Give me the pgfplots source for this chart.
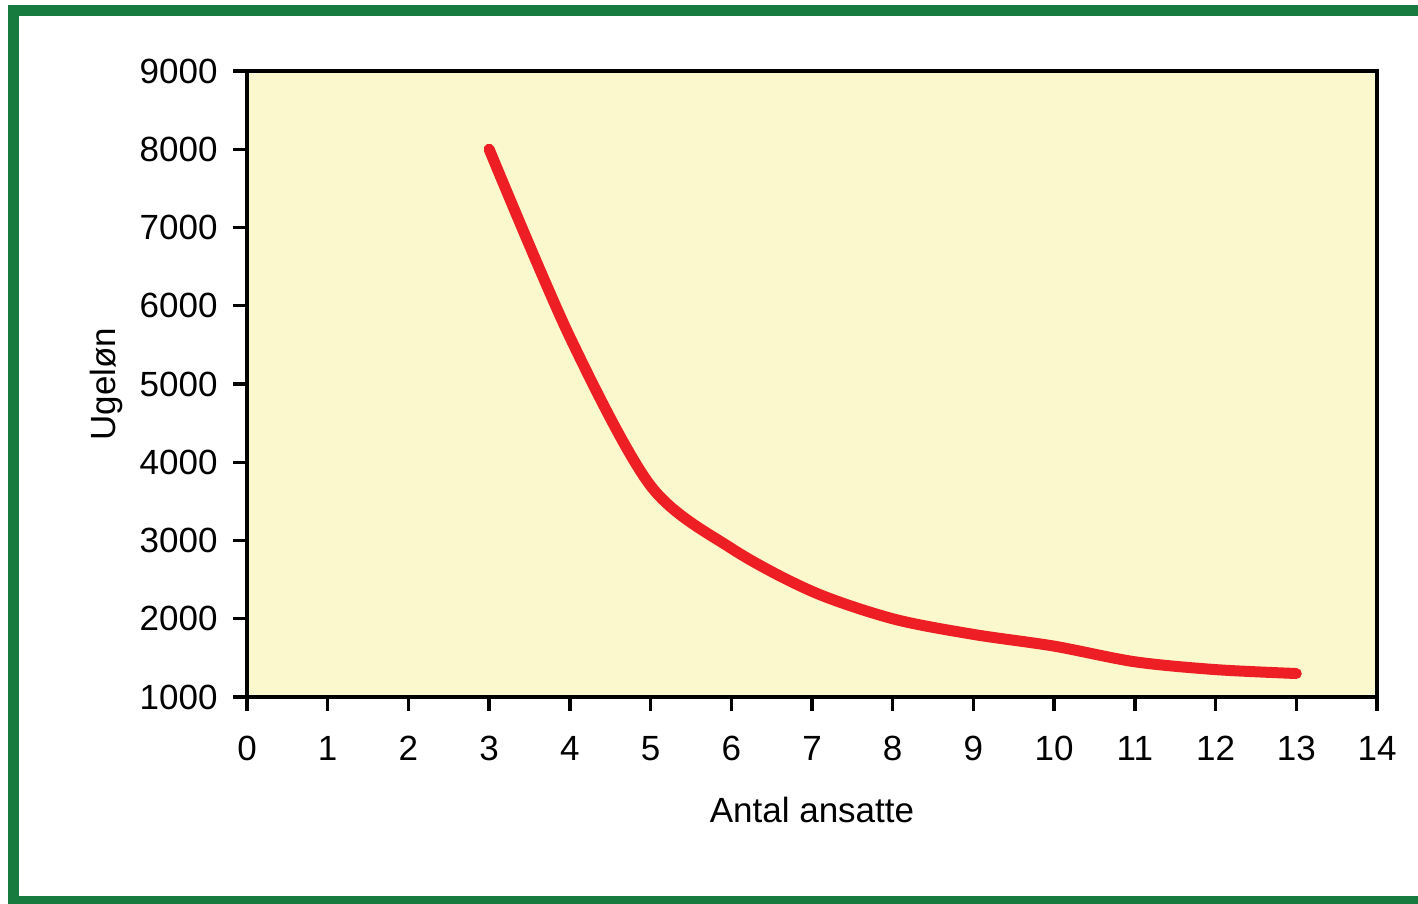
\documentclass[border=0pt]{standalone}
\usepackage{fontspec}
\setmainfont{Liberation Sans}
\usepackage{pgfplots}
\pgfplotsset{compat=1.18}
\definecolor{bgyellow}{RGB}{250,248,204}
\definecolor{linered}{RGB}{237,30,36}
\definecolor{framegreen}{RGB}{23,122,62}
\begin{document}
\begin{tikzpicture}
\useasboundingbox (0,0) rectangle (709pt,452pt);
\begin{scope}
\clip (0,0) rectangle (709pt,452pt);
\draw[framegreen, line width=5.5pt] (6.5pt,1.2pt) rectangle (720pt,446.5pt);
\end{scope}
\begin{axis}[
  at={(123.5pt,103.5pt)}, anchor=south west,
  scale only axis, width=565pt, height=313pt,
  xmin=0, xmax=14, ymin=1000, ymax=9000,
  xtick={0,1,...,14}, ytick={1000,2000,...,9000},
  axis background/.style={fill=bgyellow},
  axis line style={line width=1.7pt},
  every tick/.style={black, line width=1.7pt},
  tick align=outside, major tick length=7pt,
  xtick pos=bottom, ytick pos=left,
  /pgf/number format/assume math mode=true,
  /pgf/number format/1000 sep={},
  every tick label/.append style={font=\fontsize{17.5}{21}\selectfont, inner sep=0pt},
  xticklabel style={anchor=north, yshift=-12.5pt},
  yticklabel style={anchor=east, xshift=-7.5pt},
  label style={font=\fontsize{17.5}{21}\selectfont},
  xlabel={Antal ansatte},
  ylabel={Ugeløn},
  xlabel style={at={(axis description cs:0.5,-0.1997)}, anchor=base},
  ylabel style={at={(axis description cs:-0.1168,0.5)}, anchor=base},
]
\addplot[linered, line width=5.5pt, smooth, line cap=round, line join=round] coordinates {
(3,8000) (4,5600) (5,3700) (6,2900) (7,2350) (8,2000) (9,1800) (10,1650) (11,1450) (12,1350) (13,1300)
};
\end{axis}
\end{tikzpicture}
\end{document}
